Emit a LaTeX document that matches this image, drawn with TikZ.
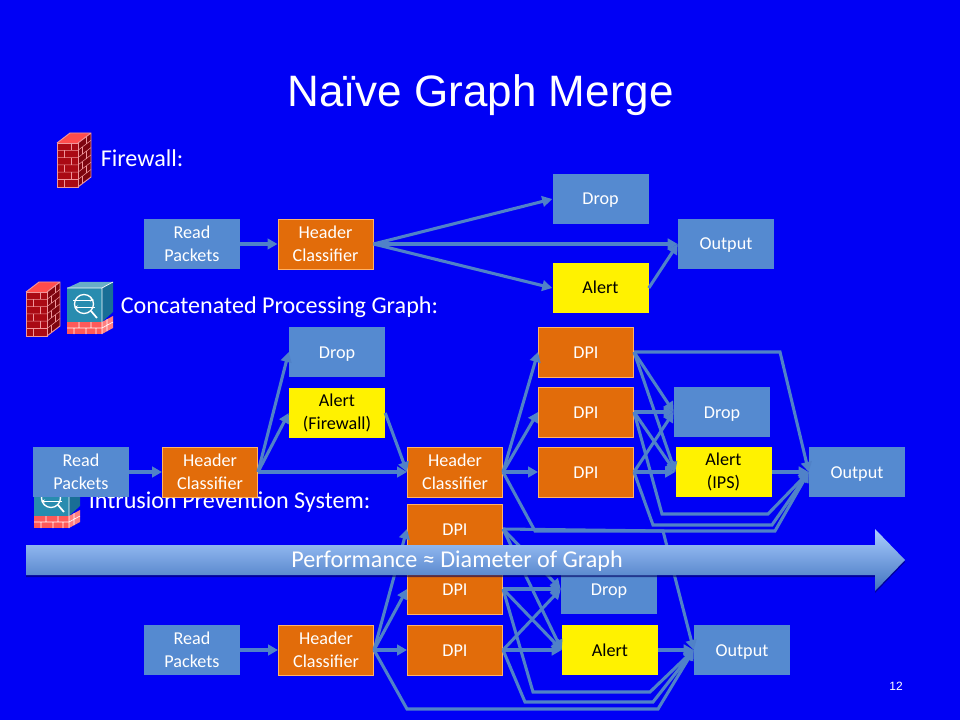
\documentclass[tikz,border=0pt]{standalone}
\usepackage{fontspec}
\setmainfont{Carlito}
\newfontfamily\titlefont{Liberation Sans}
\usetikzlibrary{arrows.meta}
\definecolor{slideblue}{RGB}{0,0,245}
\definecolor{boxblue}{RGB}{85,138,208}
\definecolor{boxorange}{RGB}{226,108,10}
\definecolor{linkblue}{RGB}{80,130,200}
\definecolor{brickred}{RGB}{170,10,20}
\definecolor{brickdark}{RGB}{125,5,15}
\definecolor{brickline}{RGB}{240,150,155}
\definecolor{tealfront}{RGB}{40,140,175}
\definecolor{tealside}{RGB}{25,110,150}
\definecolor{arrowtop}{RGB}{170,205,255}
\definecolor{arrowbottom}{RGB}{65,115,190}
\begin{document}
\begin{tikzpicture}[x=0.75pt,y=-0.75pt]
\tikzset{every node/.style={text=white,font=\fontsize{13.6}{17}\selectfont,align=center,inner sep=0pt}}
\tikzset{block/.style={minimum width=72pt,minimum height=37.5pt}}
\tikzset{plain/.style={block,fill=boxblue}}
\tikzset{classify/.style={block,minimum width=71.5pt,fill=boxorange,draw=orange!60!white,line width=0.5pt}}
\tikzset{warn/.style={block,fill=yellow,text=black}}
\tikzset{oneline/.style={text height=9pt,text depth=0pt}}
\tikzset{heading/.style={anchor=west,font=\fontsize{18.1}{22}\selectfont}}
\tikzset{link/.style={draw=linkblue,line width=2.3pt,-{Triangle[length=7.5pt,width=8pt]}}}
\tikzset{firewallicon/.pic={
    \fill[brickred] (0,0) rectangle (21,44);
    \fill[brickdark] (21,0) -- (34,-10) -- (34,34) -- (21,44) -- cycle;
    \fill[red!70!white] (0,0) -- (13,-10) -- (34,-10) -- (21,0) -- cycle;
    \foreach \h in {7.3,14.6,...,37} {
        \draw[brickline,line width=0.4pt] (0,\h) -- (21,\h) -- (34,\h-10);
    }
    \foreach \h/\v in {0/14,7.3/7,14.6/14,21.9/7,29.2/14,36.5/7} {
        \draw[brickline,line width=0.4pt] (\v,\h) -- (\v,\h+7.3);
        \draw[brickline,line width=0.4pt] (21+\v*0.6,\h-\v*0.45) -- (21+\v*0.6,\h+7.3-\v*0.45);
    }
    \draw[brickline,line width=0.7pt] (0,0) rectangle (21,44);
    \draw[brickline,line width=0.7pt] (21,44) -- (34,34) -- (34,-10) -- (13,-10) -- (0,0) (21,0) -- (34,-10);
}}
\tikzset{ipsicon/.pic={
    \fill[tealfront] (0,0) rectangle (35,34);
    \fill[tealside] (35,0) -- (46,-6) -- (46,24) -- (35,34) -- cycle;
    \fill[tealfront!70!white] (0,0) -- (13,-6) -- (46,-6) -- (35,0) -- cycle;
    \fill[red!65!white] (0,34) rectangle (35,46);
    \fill[red!50!white] (35,34) -- (46,28) -- (46,40) -- (35,46) -- cycle;
    \draw[white,line width=0.5pt] (0,40) -- (35,40) -- (46,34) (12,34) -- (12,40) (24,34) -- (24,40) (7,40) -- (7,46) (19,40) -- (19,46) (29,40) -- (29,46) (40,31) -- (40,43);
    \draw[white,line width=1pt] (17,16) circle (9.5);
    \draw[white,line width=1.3pt] (24,23) -- (30,30);
    \draw[white,line width=0.7pt,-{Stealth[length=3pt]}] (6,12) -- (27,12);
    \draw[white,line width=0.7pt,-{Stealth[length=3pt]}] (28,19) -- (7,19);
    \draw[white,line width=0.5pt] (0,0) -- (35,0) -- (46,-6) (35,0) -- (35,46);
}}
\fill[slideblue] (0,0) rectangle (960,720);
\node[font=\titlefont\fontsize{33}{38}\selectfont] (title) at (480.5,95) {Naïve Graph Merge};
\node[heading] (fwtitle) at (100.5,158) {Firewall:};
\node[heading] (cctitle) at (120.5,307) {Concatenated Processing Graph:};
\node[heading] (ipstitle) at (88.5,502) {Intrusion Prevention System:};
\pic at (57,143) {firewallicon};
\pic at (26,292) {firewallicon};
\pic at (67,288) {ipsicon};
\pic at (34,482) {ipsicon};
% firewall
\node[plain] (readA) at (192,244) {Read\\Packets};
\node[classify] (headA) at (325.5,244) {Header\\Classifier};
\node[plain,oneline] (dropA) at (600.5,199) {Drop};
\node[warn,oneline] (alertA) at (600.5,288) {Alert};
\node[plain,oneline] (outA) at (726,244) {Output};
% concatenated
\node[plain] (readB) at (81,472) {Read\\Packets};
\node[classify] (headB) at (210,472) {Header\\Classifier};
\node[plain,oneline] (dropB) at (337,352) {Drop};
\node[warn] (alertB) at (337,413) {Alert\\(Firewall)};
\node[classify] (headC) at (455,472) {Header\\Classifier};
\node[classify,oneline] (dpiA) at (586,352) {DPI};
\node[classify,oneline] (dpiB) at (586,412) {DPI};
\node[classify,oneline] (dpiC) at (586,472) {DPI};
\node[plain,oneline] (dropC) at (722,412) {Drop};
\node[warn] (alertC) at (723.5,472) {Alert\\(IPS)};
\node[plain,oneline] (outB) at (857,472) {Output};
% ips
\node[plain] (readC) at (192,650) {Read\\Packets};
\node[classify] (headD) at (326,650) {Header\\Classifier};
\node[classify,oneline] (dpiD) at (455,529) {DPI};
\node[classify,oneline] (dpiE) at (455,589) {DPI};
\node[classify,oneline] (dpiF) at (455,650) {DPI};
\node[plain,oneline] (dropD) at (609,589) {Drop};
\node[warn,oneline] (alertD) at (610,650) {Alert};
\node[plain,oneline] (outC) at (742,650) {Output};
\foreach \from/\to in {readA/headA,headA/dropA,headA/outA,headA/alertA,alertA/outA,
    readB/headB,headB/dropB,headB/alertB,headB/headC,alertB/headC,
    headC/dpiA,headC/dpiB,headC/dpiC,
    dpiA/dropC,dpiA/alertC,dpiB/dropC,dpiB/alertC,dpiC/dropC,dpiC/alertC,alertC/outB,
    readC/headD,headD/dpiD,headD/dpiE,headD/dpiF,
    dpiD/dropD,dpiD/alertD,dpiE/dropD,dpiE/alertD,dpiF/dropD,dpiF/alertD,alertD/outC} {
    \draw[link] (\from.east) -- (\to.west);
}
% bypass routes
\draw[link] (dpiA.east) -- (780,352) -- (outB.west);
\draw[link] (dpiB.east) -- (662,514) -- (768,514) -- (outB.west);
\draw[link] (dpiC.east) -- (653,525) -- (772,525) -- (outB.west);
\draw[link] (headC.east) -- (535,531) -- (775,531) -- (outB.west);
\draw[link] (dpiD.east) -- (663,531) -- (outC.west);
\draw[link] (dpiE.east) -- (533,692) -- (650,692) -- (outC.west);
\draw[link] (dpiF.east) -- (525,702) -- (653,702) -- (outC.west);
\draw[link] (headD.east) -- (407,709) -- (658,709) -- (outC.west);
% performance arrow
\fill[black!60!slideblue,opacity=.6] (26,547) -- (875,547) -- (875,531) -- (905,562) -- (875,593) -- (875,577) -- (26,577) -- cycle;
\shade[top color=arrowtop,bottom color=arrowbottom] (26,545) -- (875,545) -- (875,529) -- (905,560) -- (875,591) -- (875,575) -- (26,575) -- cycle;
\node[font=\fontsize{18.1}{22}\selectfont] (perf) at (457,561) {Performance ≈ Diameter of Graph};
\node[font=\titlefont\fontsize{9}{11}\selectfont] (pagenum) at (896,686) {12};
\end{tikzpicture}
\end{document}
